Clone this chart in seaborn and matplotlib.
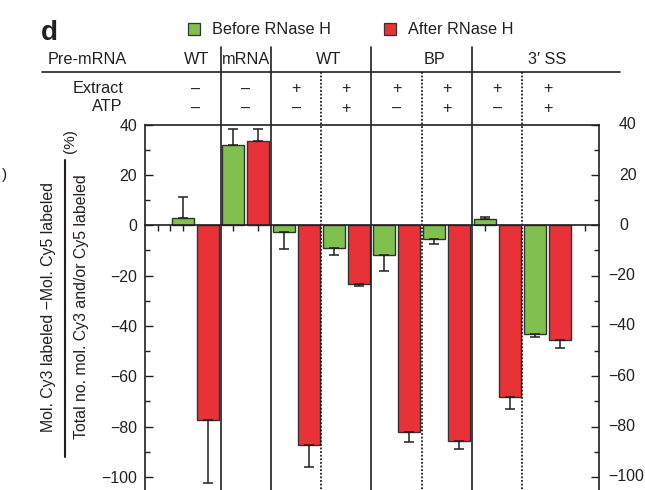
import numpy as np
import pandas as pd
import matplotlib
matplotlib.use("Agg")
import matplotlib.pyplot as plt
import matplotlib.transforms as mtransforms
from matplotlib.patches import Patch
from matplotlib.lines import Line2D
from matplotlib.ticker import MultipleLocator
import seaborn as sns

# ---- data -------------------------------------------------------------
conditions = ["WT −/−", "mRNA −/−", "WT +/−", "WT +/+",
              "BP +/−", "BP +/+", "3′ SS +/−", "3′ SS +/+"]
before_vals = [2.8, 32.0, -2.7, -9.0, -11.8, -5.4, 2.4, -43.0]
before_err = [8.3, 6.4, 6.8, 2.8, 6.4, 1.9, 1.0, 1.3]
after_vals = [-77.3, 33.4, -87.5, -23.2, -82.2, -85.6, -68.4, -45.5]
after_err = [25.0, 5.0, 8.6, 0.9, 4.1, 3.5, 4.5, 3.3]
treatments = ["Before RNase H", "After RNase H"]

premrna_labels = ["WT", "mRNA", "WT", "BP", "3′ SS"]
premrna_label_pos = [0.03, 1.0, 2.65, 4.75, 7.0]
extract_signs = ["–", "–", "+", "+", "+", "+", "+", "+"]
atp_signs = ["–", "–", "–", "+", "–", "+", "–", "+"]
y_ticks = list(range(-100, 41, 20))
y_ticklabels = [f"\u2212{abs(v)}" if v < 0 else f"{v}" for v in y_ticks]

GREEN = "#80c04f"
RED = "#e83237"
INK = "#231f20"
FS = 11.7

df = pd.DataFrame({
    "condition": conditions * 2,
    "treatment": [treatments[0]] * len(conditions) + [treatments[1]] * len(conditions),
    "value": before_vals + after_vals,
})

sns.set_style("ticks")
plt.rcParams["font.family"] = ["Liberation Sans", "DejaVu Sans"]

W, H = 645, 490
fig = plt.figure(figsize=(W / 100, H / 100), dpi=100)
ax = fig.add_axes([145 / W, 0, 454 / W, 365.3 / H])


def fy(py):
    """Figure fraction for a pixel row measured from the top."""
    return (H - py) / H


sns.barplot(data=df, x="condition", y="value", hue="treatment",
            hue_order=treatments, palette=[GREEN, RED], errorbar=None,
            width=1.0, gap=0.125, edgecolor="#333333", linewidth=1.0,
            saturation=1, legend=False, ax=ax, zorder=2)

# one-sided error bars from the bar ends outward
bars = sorted(ax.patches, key=lambda p: p.get_x())
err_all = [e for pair in zip(before_err, after_err) for e in pair]
val_all = [v for pair in zip(before_vals, after_vals) for v in pair]
xs = [p.get_x() + p.get_width() / 2 for p in bars]
lower = [e if v < 0 else 0 for v, e in zip(val_all, err_all)]
upper = [e if v >= 0 else 0 for v, e in zip(val_all, err_all)]
ax.errorbar(xs, val_all, yerr=[lower, upper], fmt="none", ecolor=INK,
            elinewidth=1.1, capsize=3.6, capthick=1.1, zorder=3)

ax.set_xlim(-1.005, 8.025)
ax.set_ylim(-105.2, 40)
ax.set_xlabel("")
ax.set_ylabel("")

# zero line carries the category ticks
for side in ["left", "right", "top", "bottom"]:
    ax.spines[side].set_color(INK)
    ax.spines[side].set_linewidth(1.2)
ax.spines["bottom"].set_position(("data", 0))
ax.set_xticks(np.arange(-0.75, 8.0, 0.5))
ax.set_xticks([-0.5], minor=True)
ax.tick_params(axis="x", which="both", direction="out", length=4.3,
               width=1.0, color=INK, labelbottom=False)

ax.set_yticks(y_ticks, labels=y_ticklabels)
ax.yaxis.set_minor_locator(MultipleLocator(10))
ax.tick_params(axis="y", which="major", direction="in", length=5.8,
               width=1.0, color=INK, left=True, right=True,
               labelleft=True, labelright=False, labelsize=11.4, pad=5.5,
               labelcolor=INK)
ax.tick_params(axis="y", which="minor", direction="in", length=3.6,
               width=1.0, color=INK, left=True, right=True)

# right-hand value labels
rt = mtransforms.blended_transform_factory(ax.transAxes, ax.transData)
for v, lab in zip(y_ticks, y_ticklabels):
    x0 = 608 if v < 0 else 619
    ax.text(1 + (x0 - 599) / 454, v, lab, transform=rt,
            ha="left", va="center", fontsize=11.4, color=INK)

# header table above the plot
ht = mtransforms.blended_transform_factory(ax.transData, fig.transFigure)
for xv in [0.5, 1.5, 3.5, 5.5]:
    fig.add_artist(Line2D([xv, xv], [fy(47), 0], transform=ht, color=INK,
                          lw=1.2, clip_on=False))
for xv in [2.5, 4.5, 6.5]:
    fig.add_artist(Line2D([xv, xv], [fy(72), 0], transform=ht, color=INK,
                          lw=1.3, ls=(0, (1, 1)), clip_on=False))
fig.add_artist(Line2D([42 / W, 620 / W], [fy(72.3), fy(72.3)],
                      transform=fig.transFigure, color=INK, lw=1.2))

fig.text(127 / W, fy(59.5), "Pre-mRNA", ha="right", va="center",
         fontsize=FS, color=INK)
fig.text(123 / W, fy(88.5), "Extract", ha="right", va="center",
         fontsize=FS, color=INK)
fig.text(122 / W, fy(106), "ATP", ha="right", va="center",
         fontsize=FS, color=INK)
for lab, xp in zip(premrna_labels, premrna_label_pos):
    fig.text(xp, fy(59.5), lab, transform=ht, ha="center", va="center",
             fontsize=FS, color=INK)
for i, (e, a) in enumerate(zip(extract_signs, atp_signs)):
    fig.text(i, fy(89), e, transform=ht, ha="center", va="center",
             fontsize=FS, color=INK)
    fig.text(i, fy(108.5), a, transform=ht, ha="center", va="center",
             fontsize=FS, color=INK)

# panel letter and legend
fig.text(41 / W, fy(32.5), "d", ha="left", va="center", fontsize=20,
         fontweight="bold", color=INK)
handles = [Patch(facecolor=GREEN, edgecolor="#333333", linewidth=0.9),
           Patch(facecolor=RED, edgecolor="#333333", linewidth=0.9)]
fig.legend(handles, treatments, ncol=2, loc="center left",
           bbox_to_anchor=(188 / W, fy(30)), frameon=False, fontsize=FS,
           handlelength=0.75, handleheight=0.75, handletextpad=0.7,
           columnspacing=3.3, borderpad=0, borderaxespad=0,
           labelcolor=INK)

# y-axis title written as a fraction
fig.text(49 / W, fy(307), "Mol. Cy3 labeled \u2212Mol. Cy5 labeled",
         rotation=90, ha="center", va="center", fontsize=11.4, color=INK)
fig.text(82 / W, fy(307), "Total no. mol. Cy3 and/or Cy5 labeled",
         rotation=90, ha="center", va="center", fontsize=11.4, color=INK)
fig.add_artist(Line2D([65 / W, 65 / W], [fy(457), fy(160)],
                      transform=fig.transFigure, color=INK, lw=1.5))
fig.text(70 / W, fy(141), "(%)", rotation=90, ha="center", va="center",
         fontsize=11, color=INK)
fig.text(5 / W, fy(175), ")", ha="center", va="center", fontsize=11,
         color=INK)

fig.savefig("out.png", dpi=100)
